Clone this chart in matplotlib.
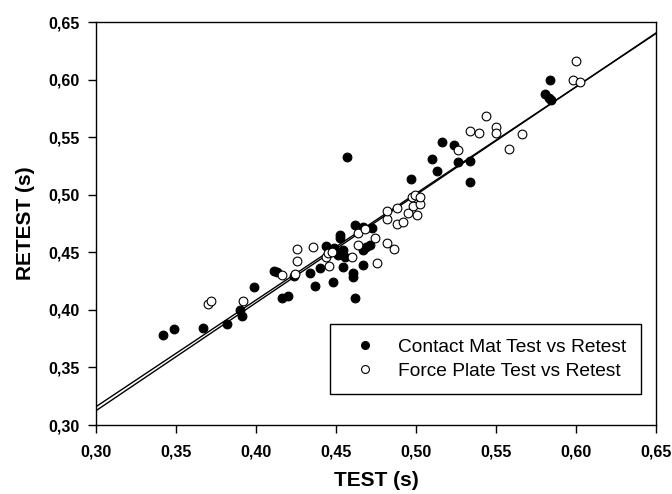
import numpy as np
import matplotlib
matplotlib.use('Agg')
import matplotlib.pyplot as plt
from matplotlib.ticker import FuncFormatter

plt.rcParams['font.family'] = ['Liberation Sans', 'DejaVu Sans']

# Contact mat: test vs retest
mat_test = [0.342, 0.349, 0.367, 0.382, 0.390, 0.391, 0.399, 0.411, 0.413, 0.416,
            0.420, 0.424, 0.434, 0.437, 0.440, 0.444, 0.448, 0.449, 0.4515, 0.4525,
            0.4525, 0.4546, 0.4546, 0.4556, 0.457, 0.4608, 0.4608, 0.462, 0.462, 0.4667,
            0.467, 0.467, 0.469, 0.471, 0.4723, 0.497, 0.510, 0.513, 0.516, 0.524,
            0.526, 0.534, 0.534, 0.5808, 0.583, 0.5844, 0.584]
mat_retest = [0.378, 0.383, 0.384, 0.388, 0.400, 0.395, 0.420, 0.434, 0.433, 0.410,
              0.412, 0.429, 0.432, 0.421, 0.436, 0.4555, 0.424, 0.4535, 0.4476, 0.462,
              0.465, 0.452, 0.4375, 0.4462, 0.533, 0.4317, 0.4288, 0.410, 0.4737, 0.439,
              0.472, 0.452, 0.4549, 0.4563, 0.471, 0.5134, 0.531, 0.521, 0.546, 0.543,
              0.528, 0.529, 0.511, 0.5872, 0.5843, 0.5823, 0.5994]

# Force plate: test vs retest
fp_test = [0.370, 0.372, 0.392, 0.416, 0.4244, 0.4258, 0.4258, 0.4358, 0.444, 0.4458,
           0.4452, 0.4473, 0.4598, 0.464, 0.464, 0.4681, 0.4744, 0.4758, 0.4817, 0.4863,
           0.4817, 0.4879, 0.4921, 0.4817, 0.4879, 0.4952, 0.5004, 0.4979, 0.5025, 0.4973,
           0.4994, 0.5025, 0.526, 0.534, 0.5396, 0.544, 0.550, 0.550, 0.558, 0.566,
           0.598, 0.6025, 0.5998]
fp_retest = [0.405, 0.408, 0.408, 0.430, 0.4311, 0.4526, 0.4424, 0.4543, 0.4462, 0.4381,
             0.449, 0.4505, 0.4462, 0.4563, 0.4665, 0.470, 0.4621, 0.4404, 0.4583, 0.4526,
             0.4787, 0.4743, 0.4761, 0.4861, 0.4882, 0.4844, 0.4824, 0.490, 0.4919, 0.4983,
             0.4998, 0.4983, 0.5388, 0.5556, 0.5539, 0.5684, 0.5586, 0.554, 0.540, 0.5525,
             0.600, 0.598, 0.6164]

# regression lines (slope, intercept)
slopes = [0.926, 0.9374]
intercepts = [0.0381, 0.0312]

fig = plt.figure(figsize=(6.72, 4.94), dpi=100)
ax = fig.add_axes([96/672, 1-425/494, 560/672, 403/494])

xl = np.array([0.30, 0.65])
for m, b in zip(slopes, intercepts):
    ax.plot(xl, m*xl + b, color='black', lw=1.0, zorder=1)

ax.plot(mat_test, mat_retest, 'o', ms=6.3, mfc='black', mec='black', mew=0.8,
        label='Contact Mat Test vs Retest', zorder=3)
ax.plot(fp_test, fp_retest, 'o', ms=6.3, mfc='white', mec='black', mew=0.8,
        label='Force Plate Test vs Retest', zorder=3)

ax.set_xlim(0.30, 0.65)
ax.set_ylim(0.30, 0.65)
ticks = np.arange(0.30, 0.651, 0.05)
ax.set_xticks(ticks)
ax.set_yticks(ticks)
fmt = FuncFormatter(lambda v, p: ('%.2f' % v).replace('.', ','))
ax.xaxis.set_major_formatter(fmt)
ax.yaxis.set_major_formatter(fmt)
ax.tick_params(direction='out', length=6, width=1, labelsize=11.5)
ax.tick_params(axis='x', pad=8)
ax.tick_params(axis='y', pad=6)
for lab in ax.get_xticklabels() + ax.get_yticklabels():
    lab.set_fontweight('bold')
for s in ax.spines.values():
    s.set_linewidth(1)

ax.set_xlabel('TEST (s)', fontsize=15, fontweight='bold', labelpad=8)
ax.set_ylabel('RETEST (s)', fontsize=15, fontweight='bold', labelpad=9)

leg = ax.legend(loc='upper right', bbox_to_anchor=(0.973, 0.251), fontsize=13.8,
                frameon=True, fancybox=False, edgecolor='black', framealpha=1,
                handletextpad=0.7, borderpad=0.75, labelspacing=0.35,
                markerscale=0.9, handlelength=2.1, borderaxespad=0)
leg.get_frame().set_linewidth(1)

fig.savefig('out.png', dpi=100)
